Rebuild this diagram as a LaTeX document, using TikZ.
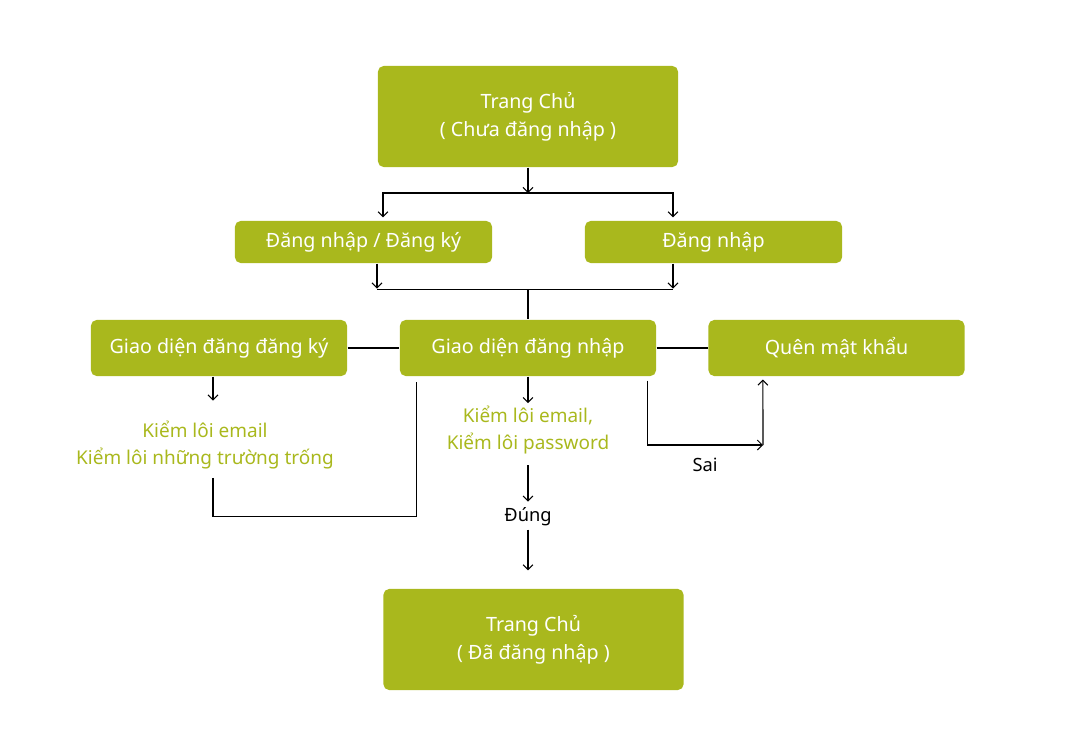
\documentclass[tikz,border=0pt]{standalone}
\usepackage{fontspec}
\setmainfont{Noto Sans}
\usetikzlibrary{positioning,calc,arrows.meta}

\definecolor{leafgreen}{HTML}{A9B81D}

\tikzset{
  box/.style={fill=leafgreen, rounded corners=4pt, text=white, inner sep=0pt,
    align=center, font=\fontsize{14}{20}\selectfont},
  bigbox/.style={box, minimum width=7.5cm, minimum height=2.525cm},
  smallbox/.style={box, minimum width=6.425cm, minimum height=1.05cm},
  midbox/.style={box, minimum width=6.4cm, minimum height=1.4cm},
  note/.style={text=leafgreen, align=center, inner sep=2pt, font=\fontsize{13.5}{18.5}\selectfont},
  tag/.style={text=black, inner sep=2pt, font=\fontsize{13}{16}\selectfont},
}

\begin{document}
\begin{tikzpicture}[x=0.025cm, y=-0.025cm, line width=0.75pt,
  >={Straight Barb[length=3.5pt,width=7pt]}]

\useasboundingbox (0,0) rectangle (1068,744);

\node (home) [bigbox] at (528,116.5) {Trang Chủ\\( Chưa đăng nhập )};
\node (both) [smallbox] at (363.5,242) {Đăng nhập / Đăng ký};
\node (login) [smallbox] at (713.5,242) {Đăng nhập};
\node (signupui) [midbox] at (219,348) {Giao diện đăng đăng ký};
\node (signin) [midbox] at (528,348) {Giao diện đăng nhập};
\node (forgot) [midbox] at (836.5,348) {Quên mật khẩu};
\node (home2) [bigbox] at (533.5,639.5) {Trang Chủ\\( Đã đăng nhập )};

\node (chk1) [note] at (205,445) {Kiểm lôi email\\Kiểm lôi những trường trống};
\node (chk2) [note] at (528,430) {Kiểm lôi email,\\Kiểm lôi password};
\node (ok) [tag] at (528,517) {Đúng};
\node (fail) [tag] at (705,465) {Sai};

\coordinate (fork) at (528,193);
\coordinate (join) at (528,289);
\coordinate (sai) at (763,445);

\draw[->] (home) -- (fork);
\draw[->] (fork) -| ($(both.north)+(19.5,-3)$);
\draw[->] (fork) -| ($(login.north)+(-40.5,-3)$);

\draw[->] ($(both.south)+(13.5,0)$) -- ++(0,25);
\draw[->] ($(login.south)+(-40.5,0)$) -- ++(0,25);
\draw ($(both.south)+(13.5,26)$) -- ($(login.south)+(-40.5,26)$);
\draw (join) -- (signin);

\draw (signupui) -- (signin);
\draw (signin) -- (forgot);

\draw[->] ($(signupui.south)+(-6,0)$) -- ++(0,24);
\draw ($(chk1.south)+(8,6)$) |- ($(signin.south west)+(17,140)$) -- ($(signin.south west)+(17,5)$);

\draw[->] (signin) -- (chk2);
\draw[->, shorten <=6pt, shorten >=2pt] (chk2) -- (ok);
\draw[->, shorten >=0.45cm] (ok) -- (ok |- home2.north);

\draw[->] ($(signin.south east)+(-9,4)$) |- (sai);
\draw[->] (sai) -- ($(forgot.south west)+(55,3)$);

\end{tikzpicture}
\end{document}
